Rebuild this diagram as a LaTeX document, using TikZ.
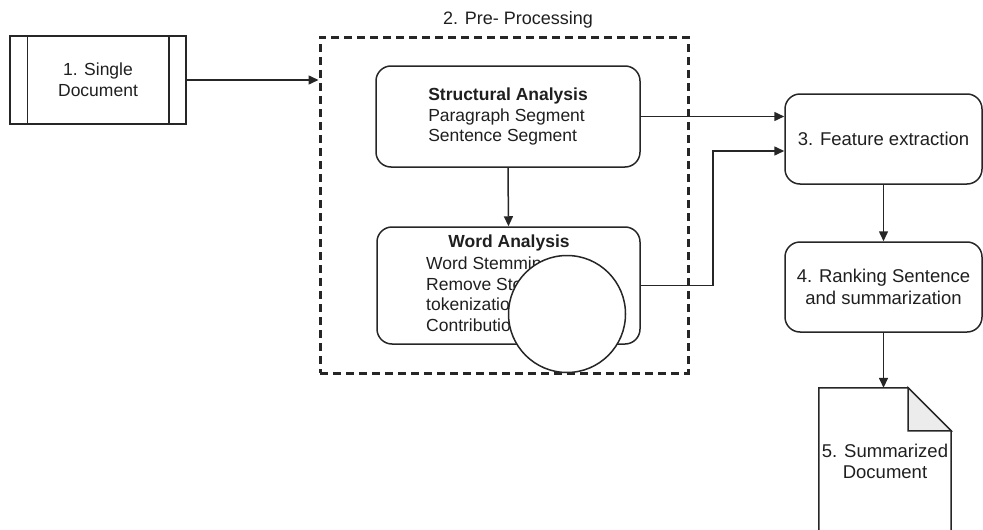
\documentclass[tikz,border=0pt]{standalone}
\usepackage{fontspec}
\setmainfont{Liberation Sans}
\usetikzlibrary{arrows.meta,calc}
\tikzset{
  procnode/.style = {shape=rectangle, draw, line width=1.5pt,
                     inner sep=0pt, align=center, font=\fontsize{18.5}{21.5}\selectfont},
  stepnode/.style = {procnode, rounded corners=15pt},
  groupbox/.style = {shape=rectangle, draw, line width=3pt,
                     dash pattern=on 8pt off 5pt, inner sep=0pt},
  blank/.style    = {circle, draw, fill=white, line width=1.5pt, inner sep=0pt},
  title/.style    = {font=\fontsize{17.5}{20.5}\selectfont\bfseries},
  flow/.style     = {-{Triangle[length=10pt,width=9pt]}, line width=1.5pt},
}

\begin{document}
\begin{tikzpicture}
	[
		x                 = 1pt,
		y                 = -1pt,
		every node/.style = {font=\fontsize{17.5}{20.5}\selectfont, text=black!88},
		draw              = black!85
	]
	\clip (0,0) rectangle (983,530);
	\node [procnode, minimum width=176, minimum height=88,
		font=\fontsize{17.5}{21}\selectfont] (sd) at (98,80) {1. Single\\Document};
	\draw [line width=1.5pt] ([xshift=18]sd.north west) -- ([xshift=18]sd.south west);
	\draw [line width=1.5pt] ([xshift=-18]sd.north east) -- ([xshift=-18]sd.south east);

	\node [groupbox, minimum width=368, minimum height=336] (pre) at (504,205) {};
	\node [font=\fontsize{18}{21}\selectfont] (ptitle) at (518,20) {2. Pre- Processing};

	\node [stepnode, minimum width=264, minimum height=101, align=left,
		font=\fontsize{17.5}{20.5}\selectfont] (sa) at (508,116.5)
		{\textbf{Structural Analysis}\\Paragraph Segment\\Sentence Segment};
	\node [stepnode, minimum width=263, minimum height=117] (wa) at (508.5,285.5) {};
	\node [title] (watitle) at (509,243) {Word Analysis};
	\node [anchor=west, align=left, inner sep=0pt] (walist) at (426,294)
		{Word Stemming\\Remove Stop Word\\tokenization\\Contribution};
	\node [blank, minimum size=117] (hole) at (567,314) {};

	\node [stepnode, minimum width=197, minimum height=90] (fe) at (883.5,139) {3. Feature extraction};
	\node [stepnode, minimum width=197, minimum height=90] (rk) at (883.5,287) {4. Ranking Sentence\\and summarization};

	% summarized document with folded corner
	\node [minimum width=132, minimum height=146, inner sep=0pt, align=center,
		font=\fontsize{18.5}{21}\selectfont] (doc) at (885,461)
		{5. Summarized\\Document};
	\draw [line width=1.5pt] (doc.north west) -- ($(doc.north east)+(-43,0)$)
		-- ($(doc.north east)+(0,43)$) -- ($(doc.south east)+(0,40)$)
		-- ($(doc.south west)+(0,40)$) -- cycle;
	\filldraw [fill=gray!15, line width=1.5pt] ($(doc.north east)+(-43,0)$)
		-- ($(doc.north east)+(-43,43)$) -- ($(doc.north east)+(0,43)$) -- cycle;

	\coordinate (bend) at (713,151);
	\draw [flow] (sd.east) -- (sd.east -| pre.west);
	\draw [flow] (sa.south) -- (wa.north);
	\draw [flow] (sa.east) -- (sa.east -| fe.west);
	\draw [flow] (wa.east) -| (bend) -- (bend -| fe.west);
	\draw [flow] (fe.south) -- (rk.north);
	\draw [flow] (rk.south) -- (rk.south |- doc.north);
\end{tikzpicture}
\end{document}
